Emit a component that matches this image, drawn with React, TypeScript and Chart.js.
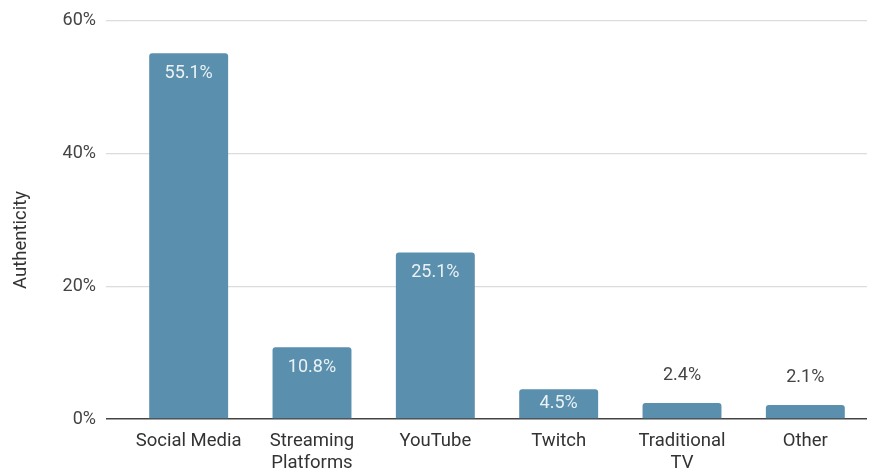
import React, { useEffect, useRef } from "react";
import { Chart, registerables } from "chart.js";

Chart.register(...registerables);

const categories: (string | string[])[] = [
  "Social Media",
  ["Streaming", "Platforms"],
  "YouTube",
  "Twitch",
  ["Traditional", "TV"],
  "Other",
];
const values = [55.1, 10.8, 25.1, 4.5, 2.4, 2.1];
const yTicks = [0, 20, 40, 60];
const yTitle = "Authenticity";

const FONT = "Roboto, 'Liberation Sans', sans-serif";
const BAR = "#5a90ae";

const labelPlugin = {
  id: "barLabels",
  afterDatasetsDraw(chart: any) {
    const ctx = chart.ctx;
    const meta = chart.getDatasetMeta(0);
    ctx.save();
    ctx.font = `18px ${FONT}`;
    ctx.textAlign = "center";
    ctx.textBaseline = "middle";
    meta.data.forEach((bar: any, i: number) => {
      const v = values[i];
      const text = v.toFixed(1) + "%";
      const h = bar.base - bar.y;
      if (h > 25) {
        ctx.fillStyle = "rgba(255,255,255,0.88)";
        ctx.fillText(text, bar.x, bar.y + Math.min(20, h / 2));
      } else {
        ctx.fillStyle = "#444";
        ctx.fillText(text, bar.x, bar.y - 28);
      }
    });
    ctx.restore();
  },
};

const titlePlugin = {
  id: "yTitle",
  afterDraw(chart: any) {
    const ctx = chart.ctx;
    ctx.save();
    ctx.font = `18.5px ${FONT}`;
    ctx.fillStyle = "#333";
    ctx.textAlign = "center";
    ctx.textBaseline = "middle";
    ctx.translate(21, 240);
    ctx.rotate(-Math.PI / 2);
    ctx.fillText(yTitle, 0, 0);
    ctx.restore();
  },
};

export default function App() {
  const ref = useRef<HTMLCanvasElement | null>(null);
  useEffect(() => {
    document.body.style.margin = "0";
    const chart = new Chart(ref.current!, {
      type: "bar",
      data: {
        labels: categories,
        datasets: [
          {
            data: values,
            backgroundColor: BAR,
            borderRadius: { topLeft: 3, topRight: 3, bottomLeft: 0, bottomRight: 0 },
            borderSkipped: "bottom",
            categoryPercentage: 0.64,
            barPercentage: 1,
          },
        ],
      },
      options: {
        animation: false,
        responsive: false,
        maintainAspectRatio: false,
        layout: { padding: { left: 0, right: 14, top: 10, bottom: 0 } },
        plugins: { legend: { display: false }, tooltip: { enabled: false } },
        scales: {
          x: {
            grid: { display: false, drawTicks: false },
            border: { display: false },
            ticks: {
              padding: 11,
              color: "#333",
              font: { family: FONT, size: 18.5, lineHeight: 1.2 },
              maxRotation: 0,
              autoSkip: false,
            },
            afterFit(scale: any) {
              scale.height = 53;
            },
          },
          y: {
            min: 0,
            max: 60,
            afterBuildTicks(scale: any) {
              scale.ticks = yTicks.map((v) => ({ value: v }));
            },
            grid: {
              color: (c: any) => (c.tick && c.tick.value === 0 ? "#444" : "#dcdcdc"),
              tickColor: (c: any) => (c.tick && c.tick.value === 0 ? "#444" : "#dcdcdc"),
              lineWidth: (c: any) => (c.tick && c.tick.value === 0 ? 1.5 : 1.3),
              tickLength: 21,
              drawTicks: true,
            },
            border: { display: false },
            ticks: {
              padding: 10,
              color: "#444",
              font: { family: FONT, size: 18 },
              callback: (v: any) => v + "%",
            },
            title: { display: false },
            afterFit(scale: any) {
              scale.width = 127;
            },
          },
        },
      },
      plugins: [labelPlugin, titlePlugin],
    });
    return () => chart.destroy();
  }, []);
  return (
    <div style={{ width: 881, height: 472, background: "#fff" }}>
      <canvas ref={ref} width={881} height={472} style={{ display: "block" }} />
    </div>
  );
}
